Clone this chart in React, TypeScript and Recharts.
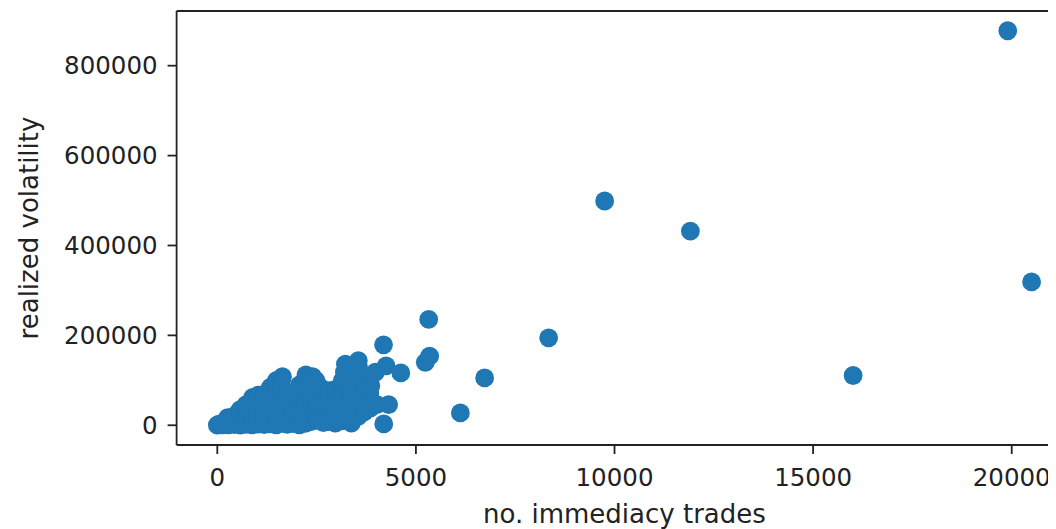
import React from "react";
import { ScatterChart, Scatter, XAxis, YAxis, ReferenceLine } from "recharts";

type Point = { x: number; y: number };

// number of immediacy trades vs realized volatility, low-activity bulk
const denseCluster: Point[] = [
  { x: 0, y: 500 }, { x: 40, y: 2500 },
  { x: 125, y: 1000 }, { x: 110, y: 3500 },
  { x: 277, y: 800 }, { x: 290, y: 9000 }, { x: 260, y: 17000 },
  { x: 430, y: 1500 }, { x: 410, y: 11000 }, { x: 445, y: 22000 },
  { x: 580, y: 500 }, { x: 560, y: 12000 }, { x: 600, y: 24000 }, { x: 575, y: 35000 },
  { x: 730, y: 2000 }, { x: 750, y: 14000 }, { x: 715, y: 27000 }, { x: 740, y: 38000 }, { x: 725, y: 46000 },
  { x: 880, y: 1000 }, { x: 900, y: 13000 }, { x: 865, y: 26000 }, { x: 895, y: 39000 }, { x: 870, y: 51000 }, { x: 890, y: 62000 },
  { x: 1030, y: 2500 }, { x: 1010, y: 16000 }, { x: 1045, y: 30000 }, { x: 1020, y: 44000 }, { x: 1050, y: 56000 }, { x: 1035, y: 67000 },
  { x: 1180, y: 1500 }, { x: 1200, y: 14000 }, { x: 1165, y: 28000 }, { x: 1190, y: 42000 }, { x: 1170, y: 57000 }, { x: 1195, y: 70000 },
  { x: 1335, y: 3000 }, { x: 1315, y: 17000 }, { x: 1350, y: 31000 }, { x: 1325, y: 46000 }, { x: 1345, y: 61000 }, { x: 1320, y: 74000 }, { x: 1340, y: 85000 },
  { x: 1485, y: 1000 }, { x: 1500, y: 15000 }, { x: 1470, y: 30000 }, { x: 1495, y: 45000 }, { x: 1475, y: 60000 }, { x: 1505, y: 75000 }, { x: 1480, y: 88000 }, { x: 1490, y: 100000 },
  { x: 1610, y: 4000 }, { x: 1630, y: 20000 }, { x: 1600, y: 36000 }, { x: 1625, y: 52000 }, { x: 1605, y: 68000 }, { x: 1620, y: 84000 }, { x: 1615, y: 98000 }, { x: 1640, y: 108000 },
  { x: 1760, y: 2000 }, { x: 1775, y: 16000 }, { x: 1745, y: 30000 }, { x: 1770, y: 43000 }, { x: 1755, y: 55000 },
  { x: 1915, y: 3500 }, { x: 1900, y: 18000 }, { x: 1930, y: 33000 }, { x: 1905, y: 48000 }, { x: 1925, y: 62000 }, { x: 1960, y: 72000 },
  { x: 2065, y: 1000 }, { x: 2080, y: 15000 }, { x: 2050, y: 30000 }, { x: 2075, y: 45000 }, { x: 2055, y: 60000 }, { x: 2085, y: 75000 }, { x: 2070, y: 90000 },
  { x: 2215, y: 4000 }, { x: 2235, y: 19000 }, { x: 2200, y: 34000 }, { x: 2230, y: 50000 }, { x: 2210, y: 66000 }, { x: 2240, y: 82000 }, { x: 2220, y: 98000 }, { x: 2230, y: 112000 },
];

// busier names, 2300 to 4600 trades
const upperCluster: Point[] = [
  { x: 2365, y: 8000 }, { x: 2350, y: 23000 }, { x: 2380, y: 38000 }, { x: 2360, y: 54000 }, { x: 2385, y: 70000 }, { x: 2355, y: 86000 }, { x: 2375, y: 100000 }, { x: 2400, y: 108000 },
  { x: 2520, y: 12000 }, { x: 2540, y: 27000 }, { x: 2505, y: 43000 }, { x: 2535, y: 59000 }, { x: 2510, y: 74000 }, { x: 2545, y: 88000 }, { x: 2480, y: 100000 },
  { x: 2670, y: 6000 }, { x: 2655, y: 21000 }, { x: 2690, y: 36000 }, { x: 2660, y: 51000 }, { x: 2685, y: 66000 }, { x: 2665, y: 80000 },
  { x: 2820, y: 8000 }, { x: 2840, y: 23000 }, { x: 2805, y: 38000 }, { x: 2835, y: 53000 }, { x: 2810, y: 67000 }, { x: 2830, y: 77000 },
  { x: 2970, y: 5000 }, { x: 2955, y: 20000 }, { x: 2990, y: 35000 }, { x: 2960, y: 50000 }, { x: 2985, y: 65000 }, { x: 2975, y: 80000 },
  { x: 3120, y: 10000 }, { x: 3140, y: 25000 }, { x: 3105, y: 41000 }, { x: 3135, y: 57000 }, { x: 3110, y: 72000 }, { x: 3140, y: 87000 }, { x: 3150, y: 100000 },
  { x: 3225, y: 136000 }, { x: 3200, y: 118000 },
  { x: 3375, y: 5000 }, { x: 3355, y: 20000 }, { x: 3390, y: 36000 }, { x: 3360, y: 52000 }, { x: 3385, y: 68000 }, { x: 3365, y: 84000 }, { x: 3380, y: 100000 },
  { x: 3550, y: 20000 }, { x: 3570, y: 36000 }, { x: 3535, y: 52000 }, { x: 3565, y: 68000 }, { x: 3540, y: 84000 }, { x: 3560, y: 100000 }, { x: 3545, y: 115000 }, { x: 3555, y: 130000 }, { x: 3550, y: 144000 },
  { x: 3700, y: 30000 }, { x: 3685, y: 46000 }, { x: 3715, y: 62000 }, { x: 3690, y: 78000 }, { x: 3710, y: 92000 }, { x: 3700, y: 104000 },
  { x: 3850, y: 38000 }, { x: 3870, y: 55000 }, { x: 3840, y: 72000 }, { x: 3865, y: 88000 },
  { x: 3980, y: 118000 }, { x: 4020, y: 46000 }, { x: 4190, y: 3000 }, { x: 4185, y: 179000 },
  { x: 4250, y: 132000 }, { x: 4313, y: 46000 }, { x: 4620, y: 116500 },
];

// sparse high-activity outliers
const outliers: Point[] = [
  { x: 5322, y: 235500 }, { x: 5345, y: 153700 }, { x: 5237, y: 140000 },
  { x: 6119, y: 27400 }, { x: 6730, y: 105400 }, { x: 8342, y: 194500 },
  { x: 9752, y: 499000 }, { x: 11910, y: 432000 }, { x: 16007, y: 110700 },
  { x: 19900, y: 877800 }, { x: 20500, y: 319000 },
];

const xTicks = [0, 5000, 10000, 15000, 20000];
const yTicks = [0, 200000, 400000, 600000, 800000];
const xDomain: [number, number] = [-1025, 21525];
const yDomain: [number, number] = [-43900, 921700];

const FONT = "'DejaVu Sans', sans-serif";
const INK = "#222";
const DOT = "#1f77b4";

const Dot = (props: any) => {
  const { cx, cy } = props;
  if (cx == null || cy == null) return <g />;
  return <circle cx={cx} cy={cy} r={9.4} fill={DOT} />;
};

const tickStyle = { fontSize: 24.5, fontFamily: FONT, fill: INK };
const spine = { stroke: INK, strokeWidth: 1.8 };

export default function App() {
  return (
    <div style={{ width: 1048, height: 521, overflow: "hidden", background: "#fff" }}>
      <ScatterChart width={1090} height={521} margin={{ top: 3, right: 25.7, bottom: 0, left: 0 }}>
        <XAxis
          type="number"
          dataKey="x"
          domain={xDomain}
          allowDataOverflow
          ticks={xTicks}
          height={84}
          tickSize={9}
          tickMargin={15}
          tick={tickStyle}
          tickLine={spine}
          axisLine={spine}
          label={{
            content: (p: any) => {
              const vb = p.viewBox;
              return (
                <text
                  x={vb.x + vb.width / 2}
                  y={vb.y + vb.height - 6}
                  textAnchor="middle"
                  fontSize={26}
                  fontFamily={FONT}
                  fill={INK}
                >
                  no. immediacy trades
                </text>
              );
            },
          }}
        />
        <YAxis
          type="number"
          dataKey="y"
          domain={yDomain}
          allowDataOverflow
          ticks={yTicks}
          width={168.6}
          tickSize={9}
          tickMargin={10}
          tick={tickStyle}
          tickLine={spine}
          axisLine={spine}
          label={{
            content: (p: any) => {
              const vb = p.viewBox;
              const cx = vb.x + 30;
              const cy = vb.y + vb.height / 2;
              return (
                <text
                  x={cx}
                  y={cy}
                  transform={`rotate(-90, ${cx}, ${cy})`}
                  textAnchor="middle"
                  fontSize={26}
                  fontFamily={FONT}
                  fill={INK}
                >
                  realized volatility
                </text>
              );
            },
          }}
        />
        {/* top frame edge */}
        <ReferenceLine y={yDomain[1]} stroke={INK} strokeWidth={1.8} ifOverflow="visible" />
        <Scatter data={denseCluster} fill={DOT} shape={<Dot />} isAnimationActive={false} />
        <Scatter data={upperCluster} fill={DOT} shape={<Dot />} isAnimationActive={false} />
        <Scatter data={outliers} fill={DOT} shape={<Dot />} isAnimationActive={false} />
      </ScatterChart>
    </div>
  );
}
